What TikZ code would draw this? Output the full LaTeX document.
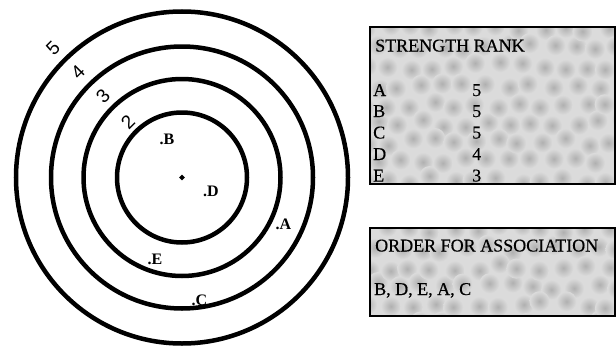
\documentclass[tikz,border=0pt]{standalone}
\usepackage{fontspec}
\setmainfont{Liberation Serif}
\newfontfamily\digitfont{Liberation Sans}
\newfontfamily\boxfont[FakeBold=0.5]{Liberation Serif}
\usetikzlibrary{shapes.geometric}
\begin{document}
\begin{tikzpicture}[x=1pt,y=-1pt,
 ring/.style={draw=black,line width=4.5pt},
 ringnum/.style={font=\digitfont\fontsize{19}{19}\selectfont,rotate=45,inner sep=0pt},
 ptlabel/.style={font=\bfseries\fontsize{16}{16}\selectfont,inner sep=0pt},
 boxtext/.style={font=\boxfont\fontsize{18}{18}\selectfont,inner sep=0pt,anchor=base west},
 panel/.style={draw=black,line width=1.2pt},
 blob/.style={inner color=gray!62,outer color=gray!28}]
\useasboundingbox (0,0) rectangle (616,348);
\pgfmathsetseed{7}
% rings
\coordinate (c) at (182,177.5);
\draw[ring] (c) circle (65);
\draw[ring] (c) circle (98.5);
\draw[ring] (c) circle (131);
\draw[ring] (c) circle (166);
\node[diamond,fill=black,inner sep=0pt,minimum size=6pt] (ctr) at (c) {};
% ring numbers
\node[ringnum] (n5) at (53,48) {5};
\node[ringnum] (n4) at (78,72) {4};
\node[ringnum] (n3) at (103,96) {3};
\node[ringnum] (n2) at (128,122) {2};
% point labels
\node[ptlabel] (pB) at (167,139) {.B};
\node[ptlabel] (pD) at (211,191) {.D};
\node[ptlabel] (pA) at (283.5,224) {.A};
\node[ptlabel] (pE) at (155,259) {.E};
\node[ptlabel] (pC) at (199.5,300) {.C};
% box 1
\begin{scope}
\clip (370,27) rectangle (615,184);
\fill[gray!28] (370,27) rectangle (615,184);
\foreach \i in {0,...,11} \foreach \j in {0,...,8} {
  \pgfmathsetmacro\bx{366+\i*22+mod(\j,2)*11+rand*4}
  \pgfmathsetmacro\by{28+\j*19+rand*4}
  \shade[blob] (\bx,\by) circle (10);
}
\end{scope}
\draw[panel] (370,27) rectangle (615,184);
\node[boxtext] (t1) at (375,51.5) {STRENGTH RANK};
\node[boxtext] (rA) at (373,96) {A};
\node[boxtext] (rB) at (373,117) {B};
\node[boxtext] (rC) at (373,138.5) {C};
\node[boxtext] (rD) at (373,160) {D};
\node[boxtext] (rE) at (373,181.5) {E};
\node[boxtext] (vA) at (472,96) {5};
\node[boxtext] (vB) at (472,117) {5};
\node[boxtext] (vC) at (472,138.5) {5};
\node[boxtext] (vD) at (472,160) {4};
\node[boxtext] (vE) at (472,181.5) {3};
% box 2
\begin{scope}
\clip (370,228) rectangle (615,316);
\fill[gray!28] (370,228) rectangle (615,316);
\foreach \i in {0,...,11} \foreach \j in {0,...,5} {
  \pgfmathsetmacro\bx{366+\i*22+mod(\j,2)*11+rand*4}
  \pgfmathsetmacro\by{229+\j*19+rand*4}
  \shade[blob] (\bx,\by) circle (10);
}
\end{scope}
\draw[panel] (370,228) rectangle (615,316);
\node[boxtext] (t2) at (375,251.5) {ORDER FOR ASSOCIATION};
\node[boxtext] (ord) at (374,295) {B, D, E, A, C};
\end{tikzpicture}
\end{document}
